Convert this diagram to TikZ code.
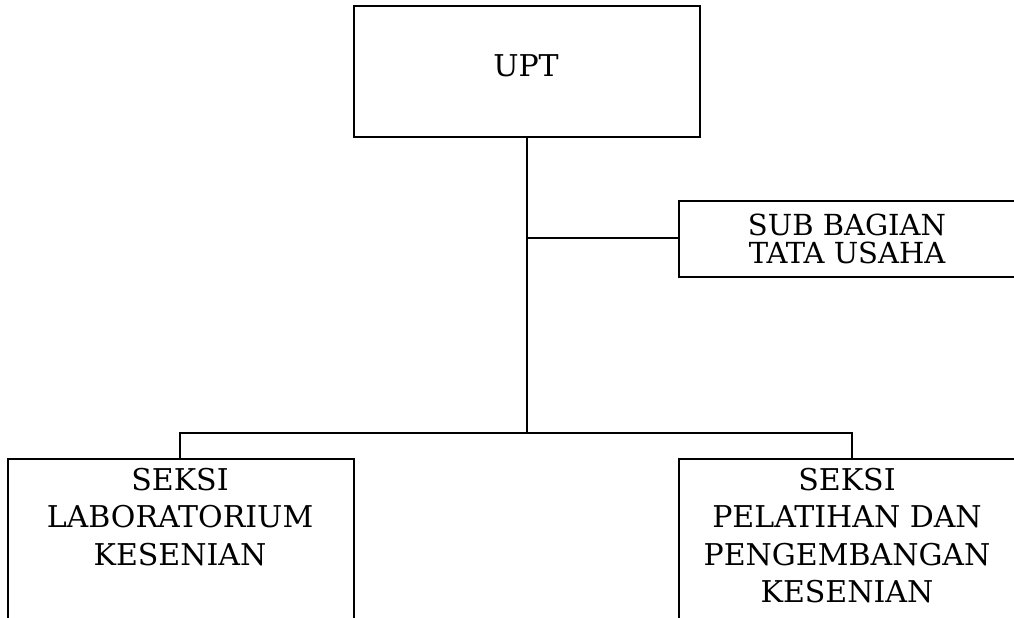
\documentclass[tikz,border=0pt]{standalone}
\usepackage{fontspec}
\setmainfont{DejaVu Serif}
\begin{document}
\begin{tikzpicture}[x=1pt,y=-1pt,
  box/.style={draw,line width=2pt,rectangle,inner sep=0pt},
  txt/.style={font=\fontsize{29}{28}\selectfont, align=center, inner sep=0pt},
  ltxt/.style={font=\fontsize{30}{37.5}\selectfont, align=center, inner sep=0pt, anchor=north},
  conn/.style={line width=2pt}]
\useasboundingbox (0,0) rectangle (1014,618);
\clip (0,0) rectangle (1014,618);
\node[box, minimum width=346pt, minimum height=131pt, anchor=north west] (upt) at (353,5) {};
\node[txt, font=\fontsize{30}{30}\selectfont] (uptt) at (526,66) {UPT};
\node[box, minimum width=338pt, minimum height=76pt, anchor=north west] (sub) at (678,200) {};
\node[txt] (subt) at (847,239) {SUB BAGIAN\\TATA USAHA};
\node[box, minimum width=346pt, minimum height=200pt, anchor=north west] (lab) at (7,458) {};
\node[ltxt] (labt) at (180,468) {SEKSI\\LABORATORIUM\\KESENIAN};
\node[box, minimum width=338pt, minimum height=200pt, anchor=north west] (pel) at (678,458) {};
\node[ltxt] (pelt) at (847,468) {SEKSI\\PELATIHAN DAN\\PENGEMBANGAN\\KESENIAN};
\coordinate (j) at (527,433);
\coordinate (s) at (527,238);
\coordinate (lj) at (180,433);
\coordinate (pj) at (852,433);
\draw[conn] (upt.south -| j) -- (j);
\draw[conn] (s) -- (s -| sub.west);
\draw[conn] (lab.north -| lj) -- (lj) -- (pj) -- (pel.north -| pj);
\end{tikzpicture}
\end{document}
